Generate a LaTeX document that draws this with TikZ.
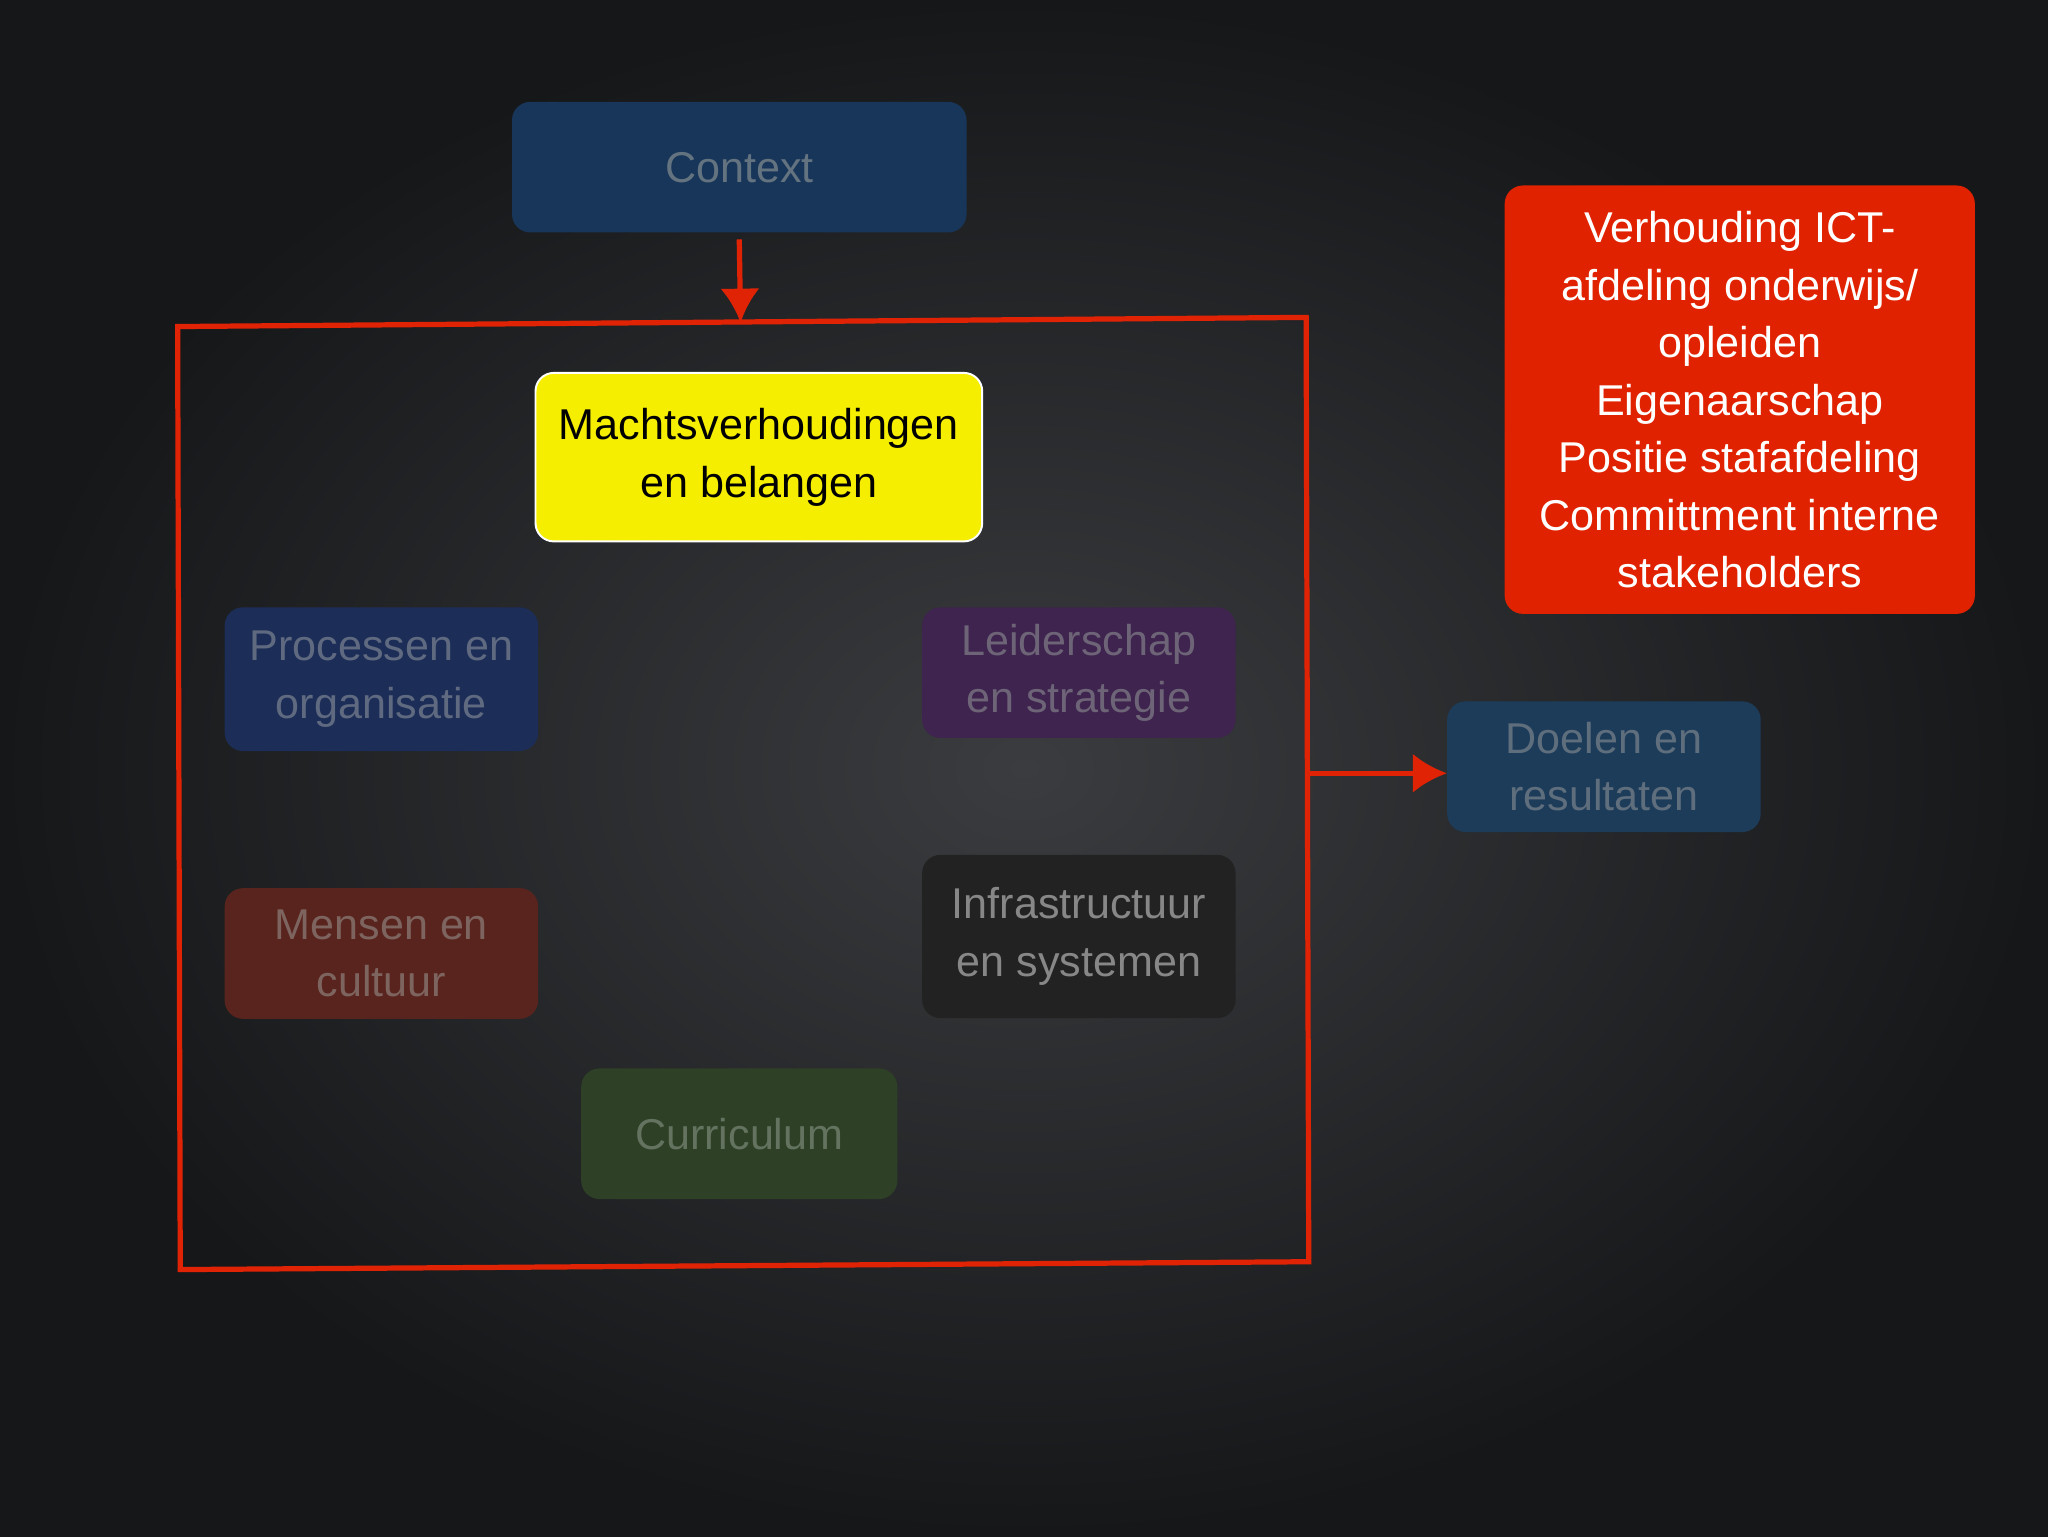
\documentclass[tikz,border=0pt]{standalone}
\usepackage{fontspec}
\setmainfont{Liberation Sans}
\usetikzlibrary{arrows.meta}
\begin{document}
\begin{tikzpicture}[x=1pt,y=-1pt,
  box/.style={rounded corners=14pt,align=center,inner sep=0pt,font=\fontsize{33}{44}\selectfont},
  redl/.style={draw={rgb,255:red,225;green,35;blue,5},line width=4pt},
  arr/.style={redl,-{Latex[length=26pt,width=30pt]}}]
\useasboundingbox (0,0) rectangle (1568,1176);
\shade[inner color={rgb,255:red,58;green,60;blue,63},outer color={rgb,255:red,22;green,23;blue,25}] (0,0) rectangle (1568,1176);
\node[box,fill={rgb,255:red,24;green,54;blue,90},text={rgb,255:red,100;green,115;blue,128},minimum width=348pt,minimum height=100pt] (ctx) at (566,128) {Context};
\coordinate (ftop) at (567,247);
\draw[arr] (ctx.south) ++(0,5) -- (ftop);
\coordinate (f1) at (136,250); \coordinate (f2) at (1000,243);
\coordinate (f3) at (1002,966); \coordinate (f4) at (138,972);
\draw[redl] (f1) -- (f2) -- (f3) -- (f4) -- cycle;
\node[box,fill={rgb,255:red,245;green,238;blue,0},draw=white,line width=1.5pt,minimum width=342pt,minimum height=129pt] (mach) at (581,350) {Machtsverhoudingen\\en belangen};
\node[box,fill={rgb,255:red,28;green,46;blue,88},text={rgb,255:red,95;green,105;blue,128},minimum width=240pt,minimum height=110pt] (proc) at (292,520) {Processen en\\organisatie};
\node[box,fill={rgb,255:red,62;green,36;blue,78},text={rgb,255:red,110;green,100;blue,120},minimum width=240pt,minimum height=100pt] (leid) at (826,515) {Leiderschap\\en strategie};
\node[box,fill={rgb,255:red,90;green,36;blue,30},text={rgb,255:red,125;green,100;blue,95},minimum width=240pt,minimum height=100pt] (mens) at (292,730) {Mensen en\\cultuur};
\node[box,fill={rgb,255:red,34;green,34;blue,35},text={rgb,255:red,135;green,135;blue,135},minimum width=240pt,minimum height=125pt] (infra) at (826,717) {Infrastructuur\\en systemen};
\node[box,fill={rgb,255:red,46;green,64;blue,38},text={rgb,255:red,100;green,115;blue,95},minimum width=242pt,minimum height=100pt] (curr) at (566,868) {Curriculum};
\node[box,fill={rgb,255:red,28;green,60;blue,90},text={rgb,255:red,95;green,110;blue,125},minimum width=240pt,minimum height=100pt] (doel) at (1228,587) {Doelen en\\resultaten};
\node[box,fill={rgb,255:red,224;green,34;blue,0},text=white,minimum width=360pt,minimum height=328pt] (verh) at (1332,306) {Verhouding ICT-\\afdeling onderwijs/\\opleiden\\Eigenaarschap\\Positie stafafdeling\\Committment interne\\stakeholders};
\coordinate (fright) at (1000,592);
\draw[arr] (fright) -- (fright -| doel.west);
\end{tikzpicture}
\end{document}
